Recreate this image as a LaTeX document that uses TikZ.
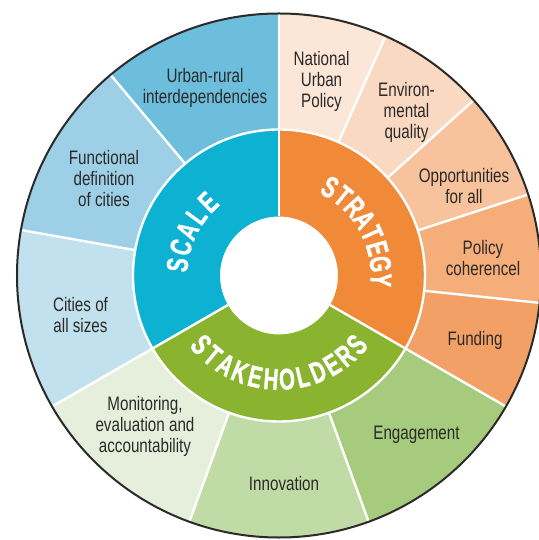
\documentclass[tikz,border=0pt]{standalone}
\usepackage{fontspec}
\setmainfont{Liberation Sans}[FakeStretch=0.78]
\newfontfamily\ringfont{Liberation Sans Bold}[FakeStretch=0.68,FakeBold=1.2]
\usepackage{xcolor}

\definecolor{ink}{HTML}{2B2A29}
\definecolor{scalemain}{HTML}{0DB2D3}
\definecolor{urbanrural}{HTML}{6CBEDC}
\definecolor{functional}{HTML}{9DCFE6}
\definecolor{cities}{HTML}{C2E1EE}
\definecolor{strategymain}{HTML}{F08A38}
\definecolor{national}{HTML}{FCE6D8}
\definecolor{environ}{HTML}{F9D9C2}
\definecolor{opport}{HTML}{F7C29C}
\definecolor{policy}{HTML}{F5AE79}
\definecolor{funding}{HTML}{F3A066}
\definecolor{stakemain}{HTML}{8AB42F}
\definecolor{monitoring}{HTML}{E6EFDB}
\definecolor{innovation}{HTML}{C0DBA6}
\definecolor{engagement}{HTML}{A6CB7C}

% colour, start angle, end angle, inner radius, outer radius
\newcommand{\ringpart}[5]{%
  \fill[#1] (#2:#4) arc[start angle=#2, end angle=#3, radius=#4]
            -- (#3:#5) arc[start angle=#3, end angle=#2, radius=#5] -- cycle;}

\begin{document}
\begin{tikzpicture}[
                      x = 1pt,
                      y = 1pt,
      every node/.style = {font=\fontsize{19.5}{21}\selectfont, text=ink,
                           align=center, inner sep=0pt},
         divider/.style = {draw=white, line width=2.4pt},
      ringletter/.style = {font=\ringfont\fontsize{30}{30}\selectfont,
                           text=white},
                   ]
\useasboundingbox (-279,-264.5) rectangle (259,275.5);

% outer ring
\ringpart{urbanrural}{90}{130}{146}{262}
\ringpart{functional}{130}{170}{146}{262}
\ringpart{cities}{170}{210}{146}{262}
\ringpart{monitoring}{210}{250}{146}{262}
\ringpart{innovation}{250}{290}{146}{262}
\ringpart{engagement}{290}{330}{146}{262}
\ringpart{funding}{-30}{-6}{146}{262}
\ringpart{policy}{-6}{18}{146}{262}
\ringpart{opport}{18}{42}{146}{262}
\ringpart{environ}{42}{66}{146}{262}
\ringpart{national}{66}{90}{146}{262}

% inner ring
\ringpart{scalemain}{90}{210}{59}{146}
\ringpart{stakemain}{210}{330}{59}{146}
\ringpart{strategymain}{-30}{90}{59}{146}

\foreach \a in {90,130,170,210,250,290,330,-6,18,42,66}
    \draw[divider] (\a:146) -- (\a:262);
\foreach \a in {90,210,330}
    \draw[divider] (\a:59) -- (\a:146);
\draw[divider] (0,0) circle[radius=146];
\draw[line width=2pt, ink] (0,0) circle[radius=262];

% ring titles, letter by letter
\foreach \l [count=\i, evaluate=\i as \a using 174-(\i-1)*10] in {S,C,A,L,E}
    \node[ringletter, rotate=\a-90] (scale-\i) at (\a:102) {\l};
\foreach \l [count=\i, evaluate=\i as \a using 60-(\i-1)*8.93] in {S,T,R,A,T,E,G,Y}
    \node[ringletter, rotate=\a-90] (strategy-\i) at (\a:102) {\l};
\foreach \l [count=\i, evaluate=\i as \a using 221.6+(\i-1)*8.8] in {S,T,A,K,E,H,O,L,D,E,R,S}
    \node[ringletter, rotate=\a+90] (stake-\i) at (\a:104) {\l};

\node (urbanrural) at (-74,188)     {Urban-rural\\interdependencies};
\node (functional) at (-175,96.5)   {Functional\\definition\\of cities};
\node (cities)     at (-198.5,-39.5){Cities of\\all sizes};
\node (monitoring) at (-134,-150.5) {Monitoring,\\evaluation and\\accountability};
\node (innovation) at (5,-208.5)    {Innovation};
\node (engagement) at (137.5,-159.5){Engagement};
\node (funding)    at (196,-65)     {Funding};
\node (policy)     at (204,17)      {Policy\\coherencel};
\node (opport)     at (185,89.5)    {Opportunities\\for all};
\node (environ)    at (127.5,163)   {Environ-\\mental\\quality};
\node (national)   at (42.5,194.5)  {National\\Urban\\Policy};
\end{tikzpicture}
\end{document}
